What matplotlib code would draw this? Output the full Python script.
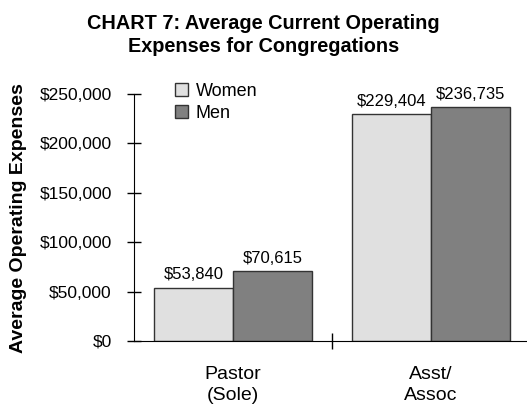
import matplotlib
matplotlib.use("Agg")
import matplotlib.pyplot as plt
import numpy as np

categories = ["Pastor\n(Sole)", "Asst/\nAssoc"]
series = ["Women", "Men"]
women = [53840, 229404]
men = [70615, 236735]
colors = ["#e0e0e0", "#808080"]
yticks = [0, 50000, 100000, 150000, 200000, 250000]

plt.rcParams["font.family"] = ["Liberation Sans", "DejaVu Sans"]

fig = plt.figure(figsize=(5.27, 4.07), dpi=100)
ax = fig.add_axes([134 / 527, 1 - 341 / 407, 1 - 134 / 527 + 0.006, (341 - 94) / 407])

x = np.arange(len(categories))
w = 0.4
for i, (vals, name) in enumerate(zip([women, men], series)):
    bars = ax.bar(x + (i - 0.5) * w, vals, w, color=colors[i], edgecolor="#333333",
                  linewidth=1.0, label=name)
    for b, v in zip(bars, vals):
        ax.annotate(f"${v:,}", (b.get_x() + b.get_width() / 2, v),
                    xytext=(0, 4), textcoords="offset points",
                    ha="center", va="bottom", fontsize=12)

ax.set_xlim(-0.5, 1.5)
ax.set_ylim(0, 250000)
ax.set_yticks(yticks)
ax.set_yticklabels([f"${t:,}" for t in yticks], fontsize=12.5)
ax.set_xticks(x)
ax.set_xticklabels(categories, fontsize=14, linespacing=1.3)
ax.tick_params(axis="x", which="major", length=0, pad=18)
ax.set_xticks([0.5], minor=True)
ax.tick_params(axis="x", which="minor", direction="inout", length=12, width=1)
ax.tick_params(axis="y", direction="inout", length=10, width=1, pad=11)

for s in ["top", "right"]:
    ax.spines[s].set_visible(False)
ax.spines["left"].set_color("#000000")
ax.spines["bottom"].set_color("#000000")

fig.text(19 / 527, 1 - 218 / 407, "Average Operating Expenses", rotation=90,
         ha="center", va="center", fontsize=14, fontweight="bold")

ax.legend(loc="upper left", bbox_to_anchor=(0.085, 1.075), frameon=False, fontsize=13,
          handlelength=0.75, handleheight=0.75, handletextpad=0.4, labelspacing=0.3,
          borderaxespad=0)

fig.text(0.5, 1 - 35 / 407, "CHART 7: Average Current Operating\nExpenses for Congregations",
         ha="center", va="center", fontsize=14.3, fontweight="bold", linespacing=1.3)

fig.savefig("out.png", dpi=100)
